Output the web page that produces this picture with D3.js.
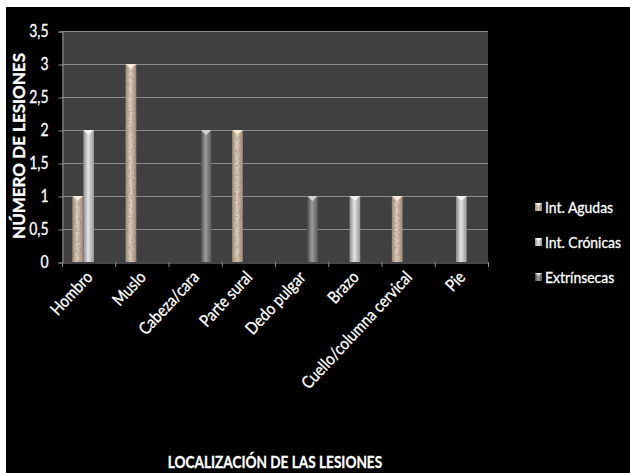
<!DOCTYPE html>
<html><head><meta charset="utf-8">
<script src="https://cdn.jsdelivr.net/npm/d3@7"></script>
<style>
html,body{margin:0;padding:0;background:#fff;}
svg{display:block;}
text{font-family:Lato,"Open Sans",sans-serif;fill:#fff;stroke:#fff;stroke-width:0.3px;}
</style></head>
<body>
<script>
const categories = ["Hombro","Muslo","Cabeza/cara","Parte sural","Dedo pulgar","Brazo","Cuello/columna cervical","Pie"];
const seriesNames = ["Int. Agudas","Int. Crónicas","Extrínsecas"];
const agudas    = [1,3,0,2,0,0,1,0];
const cronicas  = [2,0,0,0,0,1,0,1];
const extrinsecas = [0,0,2,0,1,0,0,0];
const yTicks = [0,0.5,1,1.5,2,2.5,3,3.5];
const yTitle = "NÚMERO DE LESIONES";
const xTitle = "LOCALIZACIÓN DE LAS LESIONES";

const seriesValues = [agudas, cronicas, extrinsecas];
const W = 630, H = 473;
const svg = d3.select("body").append("svg").attr("width", W).attr("height", H);

function condense(sel, k){
  sel.each(function(){
    const n = this.getComputedTextLength();
    d3.select(this).attr("textLength", n*k).attr("lengthAdjust","spacingAndGlyphs");
  });
}

const defs = svg.append("defs");
function grad(id, stops){
  const g = defs.append("linearGradient").attr("id", id).attr("x1","0%").attr("x2","100%").attr("y1","0%").attr("y2","0%");
  stops.forEach(s => g.append("stop").attr("offset", s[0]).attr("stop-color", s[1]));
}
grad("gA", [["0%","#9c8a78"],["45%","#e2d4c2"],["100%","#9a8672"]]);
grad("gB", [["0%","#8a8a8a"],["45%","#e4e4e4"],["100%","#979797"]]);
grad("gC", [["0%","#4a4a4a"],["45%","#9c9c9c"],["100%","#585858"]]);
const fills = ["url(#gA)","url(#gB)","url(#gC)"];
const capFill = ["#fbf0dc","#f4f4f4","#d8d8d8"];

const f = defs.append("filter").attr("id","noise").attr("x","0").attr("y","0").attr("width","1").attr("height","1");
f.append("feTurbulence").attr("type","fractalNoise").attr("baseFrequency","0.55").attr("numOctaves","2").attr("seed","3").attr("result","t");
f.append("feColorMatrix").attr("in","t").attr("type","matrix")
  .attr("values","0 0 0 0 0.35  0 0 0 0 0.25  0 0 0 0 0.22  -2.2 0 0 0 1.25").attr("result","spots");
f.append("feComposite").attr("in","spots").attr("in2","SourceGraphic").attr("operator","in").attr("result","sp");
const fm = f.append("feMerge");
fm.append("feMergeNode").attr("in","SourceGraphic");
fm.append("feMergeNode").attr("in","sp");

svg.append("rect").attr("x",6).attr("y",7).attr("width",W-6).attr("height",H-7).attr("fill","#000");

const plot = {l:62, r:488, t:31, b:262};
svg.append("rect").attr("x",plot.l).attr("y",plot.t).attr("width",plot.r-plot.l).attr("height",plot.b-plot.t).attr("fill","#404040");

const x = d3.scaleBand().domain(categories).range([plot.l, plot.r]).paddingInner(0).paddingOuter(0);
const xs = d3.scaleBand().domain(seriesNames).range([0, x.bandwidth()]).paddingOuter(0.95).paddingInner(0.02);
const y = d3.scaleLinear().domain([0,3.5]).range([plot.b, plot.t]);

svg.append("g").selectAll("line").data(yTicks.filter(d=>d>0)).join("line")
  .attr("x1",plot.l).attr("x2",plot.r).attr("y1",d=>y(d)+0.5).attr("y2",d=>y(d)+0.5)
  .attr("stroke","#8c8c8c").attr("stroke-width",1.2);

const yAxis = d3.axisLeft(y).tickValues(yTicks).tickSize(4).tickPadding(10)
  .tickFormat(d => String(d).replace(".", ","));
const ya = svg.append("g").attr("transform",`translate(${plot.l+0.5},0.5)`).call(yAxis);
ya.select(".domain").attr("stroke","#8c8c8c");
ya.selectAll(".tick line").attr("stroke","#8c8c8c");
ya.selectAll("text").attr("fill","#fff").attr("font-family",null).style("font-size","17px");
condense(ya.selectAll("text"), 0.82);

const groups = svg.append("g").selectAll("g").data(seriesNames).join("g");
groups.each(function(s, si){
  const g = d3.select(this);
  const data = categories.map((c,i)=>({c, v: seriesValues[si][i]})).filter(d=>d.v>0);
  g.selectAll("rect").data(data).join("rect")
    .attr("x", d => x(d.c) + xs(s))
    .attr("y", d => y(d.v))
    .attr("width", xs.bandwidth())
    .attr("height", d => y(0) - y(d.v))
    .attr("fill", fills[si])
    .attr("filter", si===0 ? "url(#noise)" : null);
  g.selectAll("path").data(data).join("path")
    .attr("d", d => {
      const x0 = x(d.c) + xs(s), w = xs.bandwidth(), yy = y(d.v);
      return `M${x0},${yy} L${x0+w},${yy} L${x0+w/2},${yy+5} Z`;
    })
    .attr("fill", capFill[si]).attr("opacity",0.9);
});

const xAxis = d3.axisBottom(x).tickSize(0).tickFormat("");
const xa = svg.append("g").attr("transform",`translate(0,${plot.b+0.5})`).call(xAxis);
xa.select(".domain").attr("stroke","#8c8c8c");
const bounds = categories.map(c => x(c)).concat([plot.r]);
svg.append("g").selectAll("line").data(bounds).join("line")
  .attr("x1",d=>d+0.5).attr("x2",d=>d+0.5).attr("y1",plot.b).attr("y2",plot.b+5)
  .attr("stroke","#8c8c8c");

const xl = svg.append("g").selectAll("text").data(categories).join("text")
  .attr("transform", d => `translate(${x(d)+x.bandwidth()/2+5},${plot.b+16}) rotate(-47)`)
  .attr("text-anchor","end")
  .style("font-size","17px")
  .text(d => d);
condense(xl, 0.86);

const yt = svg.append("text").attr("transform",`translate(25,146) rotate(-90)`).attr("text-anchor","middle")
  .style("font-size","17px").style("font-weight","bold").text(yTitle);
condense(yt, 1.0);
const xt = svg.append("text").attr("x",275).attr("y",468).attr("text-anchor","middle")
  .style("font-size","17px").style("font-weight","bold").text(xTitle);
condense(xt, 0.8);

const lg = svg.append("g").selectAll("g").data(seriesNames).join("g")
  .attr("transform",(d,i)=>`translate(535,${207 + i*35})`);
lg.append("rect").attr("x",0).attr("y",-4).attr("width",7).attr("height",8)
  .attr("fill",(d,i)=>fills[i]).attr("filter",(d,i)=>i===0?"url(#noise)":null);
lg.append("path").attr("d","M0,-4 L7,-4 L3.5,-1 Z").attr("fill",(d,i)=>capFill[i]);
const lt = lg.append("text").attr("x",10).attr("y",6).style("font-size","15px").text(d=>d);
condense(lt, 0.93);
</script>
</body></html>
